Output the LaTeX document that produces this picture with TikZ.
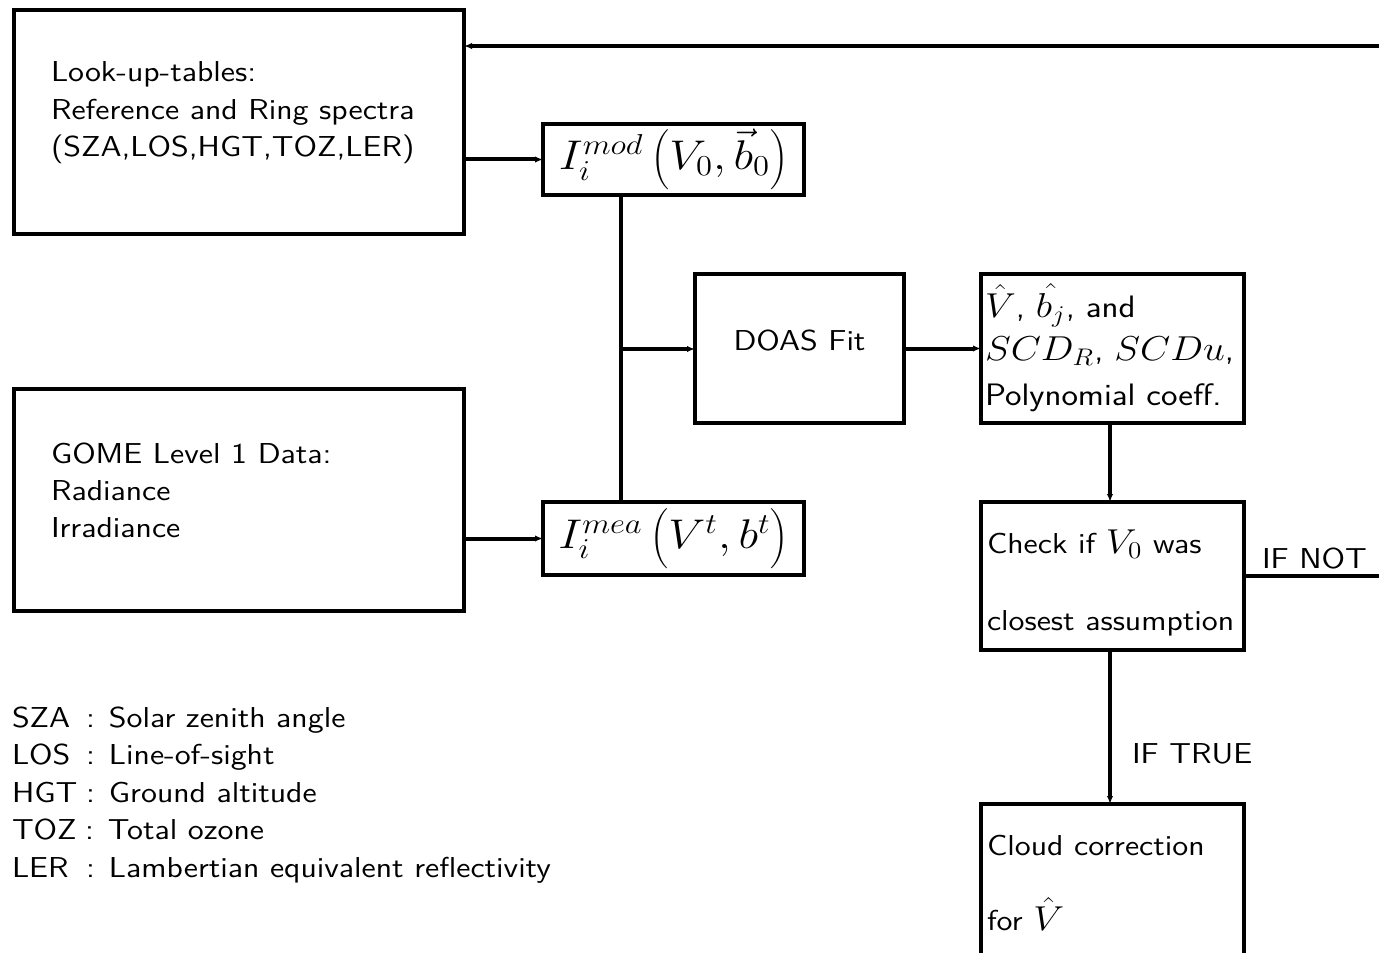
\documentclass[tikz,border=0pt]{standalone}
\usetikzlibrary{arrows.meta}
\newcommand\sx[1]{\scalebox{1.13}[1]{#1}}
\newcommand\mm[1]{{\fontsize{17.28}{20}\selectfont$#1$}}
\newcommand\mr[1]{{\fontsize{18.5}{20}\selectfont$#1$}}
\newcommand\mbig[1]{{\fontsize{20}{24}\selectfont$#1$}}
\newcommand\tallstrut{\rule[-10pt]{0pt}{30pt}}
\begin{document}
\sffamily
\begin{tikzpicture}[x=0.5pt,y=-0.5pt,line width=2pt,
  box/.style={draw,line width=2pt,inner sep=0pt,outer sep=0pt,anchor=north west},
  txt/.style={font=\fontsize{14.4}{18.75}\selectfont,inner sep=0pt,outer sep=0pt,anchor=base west},
  rtxt/.style={txt,font=\fontsize{15.5}{18.75}\selectfont},
  arr/.style={-{Latex[length=4pt,width=3.2pt]}}]
\clip (0,0) rectangle (1379,952);
\useasboundingbox (0,0) rectangle (1379,952);
% boxes
\node[box,minimum width=225pt,minimum height=112pt] (lut) at (14,10) {};
\node[box,minimum width=225pt,minimum height=111pt] (gome) at (14,389) {};
\node[box,minimum width=130.5pt,minimum height=35.5pt] (imod) at (543,124) {};
\node[box,minimum width=130.5pt,minimum height=36.5pt] (imea) at (543,502) {};
\node[box,minimum width=104.5pt,minimum height=74.5pt] (doas) at (695,274) {};
\node[box,minimum width=131.5pt,minimum height=74.5pt] (res) at (981,274) {};
\node[box,minimum width=131.5pt,minimum height=74pt] (check) at (981,502) {};
\node[box,minimum width=131.5pt,minimum height=80pt] (cloud) at (981,804) {};
% texts
\node[txt] (lut1) at (51,82) {\sx{Look-up-tables:}};
\node[txt] (lut2) at (51,119.5) {\sx{Reference and Ring spectra}};
\node[txt] (lut3) at (51,157) {\sx{(SZA,LOS,HGT,TOZ,LER)}};
\node[txt] (g1) at (51,463) {\sx{GOME Level 1 Data:}};
\node[txt] (g2) at (51,500) {\sx{Radiance}};
\node[txt] (g3) at (51,537) {\sx{Irradiance}};
\node[txt,anchor=center] (imodtxt) at (imod.center) {\sx{\mbig{I_i^{mod}\left(\tallstrut V_0,\vec{b}_0\right)}}};
\node[txt,anchor=center] (imeatxt) at (imea.center) {\sx{\mbig{I_i^{mea}\left(\tallstrut V^t,b^t\right)}}};
\node[txt,anchor=base] (doastxt) at ([yshift=-1pt]doas.center) {\sx{DOAS Fit}};
\node[rtxt] (r1) at (985,317) {\sx{\mr{\hat{V}}, \mr{\hat{b_j}}, and}};
\node[rtxt] (r2) at (985,360) {\sx{\mr{SCD_R}, \mr{SCDu},}};
\node[rtxt] (r3) at (985,405) {\sx{Polynomial coeff.}};
\node[txt] (c1) at (987,553) {\sx{Check if \mm{V_0} was}};
\node[txt] (c2) at (987,630) {\sx{closest assumption}};
\node[txt] (d1) at (987,855) {\sx{Cloud correction}};
\node[txt] (d2) at (987,930) {\sx{for \mm{\hat{V}}}};
\node[txt] (ifnot) at (1262,568) {\sx{IF NOT}};
\node[txt] (iftrue) at (1132,763) {\sx{IF TRUE}};
% legend
\node[txt] (l1) at (12,727) {\sx{SZA}};
\node[txt] (l1b) at (86,727) {\sx{: Solar zenith angle}};
\node[txt] (l2) at (12,764) {\sx{LOS}};
\node[txt] (l2b) at (86,764) {\sx{: Line-of-sight}};
\node[txt] (l3) at (12,802) {\sx{HGT}};
\node[txt] (l3b) at (86,802) {\sx{: Ground altitude}};
\node[txt] (l4) at (12,839) {\sx{TOZ}};
\node[txt] (l4b) at (85,839) {\sx{: Total ozone}};
\node[txt] (l5) at (12,877) {\sx{LER}};
\node[txt] (l5b) at (86,877) {\sx{: Lambertian equivalent reflectivity}};
% connectors
\coordinate (topR) at (1385,46);
\coordinate (notR) at (1385,576);
\coordinate (j) at (621,349);
\draw[arr] (topR) -- (topR -| lut.east);
\draw[arr] (lut.east |- imod.west) -- (imod.west);
\draw[arr] (gome.east |- imea.west) -- (imea.west);
\draw (imod.south -| j) -- (imea.north -| j);
\draw[arr] (j) -- (j -| doas.west);
\draw[arr] (doas.east) -- (res.west);
\draw[arr] (res.south -| 1110,0) -- (check.north -| 1110,0);
\draw[arr] (check.south -| 1110,0) -- (cloud.north -| 1110,0);
\draw (check.east) -- (notR);
\end{tikzpicture}
\end{document}
